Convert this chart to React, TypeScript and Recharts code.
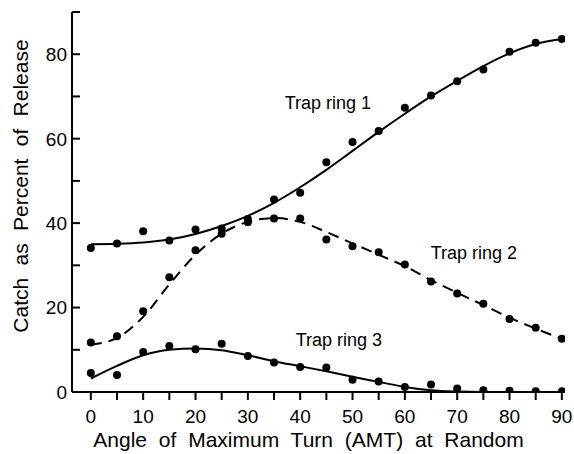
import React from "react";
import { ComposedChart, Line, Scatter, XAxis, YAxis, ReferenceDot } from "recharts";

// angle of maximum turn (deg), sampled every 5
const angles = [0, 5, 10, 15, 20, 25, 30, 35, 40, 45, 50, 55, 60, 65, 70, 75, 80, 85, 90];

// observed catch (% of release)
const ring1Catch = [34.1, 35.2, 38.1, 35.9, 38.5, 38.7, 41.0, 45.6, 47.2, 54.4, 59.2, 61.8, 67.3, 70.2, 73.6, 76.4, 80.6, 82.7, 83.6];
const ring2Catch = [11.7, 13.2, 19.1, 27.2, 33.6, 37.5, 40.2, 41.1, 41.1, 36.1, 34.5, 33.1, 30.2, 26.2, 23.3, 20.9, 17.3, 15.2, 12.6];
const ring3Catch = [4.5, 4.0, 9.5, 10.9, 10.1, 11.4, 8.5, 7.0, 5.9, 5.8, 2.9, 2.5, 1.2, 1.8, 0.8, 0.4, 0.3, 0.2, 0.2];

// fitted curves
const ring1Fit = [35.0, 35.1, 35.4, 36.1, 37.4, 39.3, 41.7, 44.8, 48.5, 52.6, 57.1, 61.6, 65.9, 70.0, 73.7, 77.2, 80.2, 82.4, 83.6];
const ring2Fit = [11.2, 12.8, 17.8, 25.5, 32.5, 37.5, 40.3, 41.2, 40.3, 37.9, 35.2, 32.5, 29.8, 26.5, 23.5, 20.6, 17.6, 15.0, 12.6];
const ring3Fit = [3.2, 6.2, 8.7, 10.0, 10.3, 9.9, 8.7, 7.3, 6.1, 4.9, 3.6, 2.4, 1.2, 0.4, 0.1, 0, 0, 0, 0];

const xTicks = angles;
const yTicks = [0, 10, 20, 30, 40, 50, 60, 70, 80, 90];

const ringLabels = [
  { name: "Trap ring 1", x: 45.3, y: 68.6 },
  { name: "Trap ring 2", x: 73.2, y: 33.1 },
  { name: "Trap ring 3", x: 47.4, y: 12.3 },
];

const data = angles.map((angle, i) => ({
  angle,
  ring1: ring1Catch[i],
  ring2: ring2Catch[i],
  ring3: ring3Catch[i],
  fit1: ring1Fit[i],
  fit2: ring2Fit[i],
  fit3: ring3Fit[i],
}));

const FONT = "'Liberation Sans', Arial, Helvetica, sans-serif";

function YTick(props: any) {
  const { x, y, payload } = props;
  const axisX = x + 5;
  return (
    <g>
      <line x1={axisX} x2={axisX + 8} y1={y} y2={y} stroke="#000" strokeWidth={2} />
      {payload.value % 20 === 0 && (
        <text x={x} y={y} dy="0.36em" textAnchor="end" fontSize={19} fontFamily={FONT} fill="#000">
          {payload.value}
        </text>
      )}
    </g>
  );
}

function Dot(props: any) {
  return <circle cx={props.cx} cy={props.cy} r={4} fill="#000" />;
}

function XTitle(props: any) {
  const { x, y, width } = props.viewBox;
  return (
    <text x={x + width / 2 - 10} y={y + 55} textAnchor="middle" fontSize={21} fontFamily={FONT} fill="#000" style={{ wordSpacing: 6 }}>
      Angle of Maximum Turn (AMT) at Random
    </text>
  );
}

function YTitle(props: any) {
  const { y, height } = props.viewBox;
  const cx = 20;
  const cy = y + height / 2 - 16;
  return (
    <text x={cx} y={cy} dy="0.36em" transform={`rotate(-90 ${cx} ${cy})`} textAnchor="middle" fontSize={21} fontFamily={FONT} fill="#000" style={{ wordSpacing: 6.5 }}>
      Catch as Percent of Release
    </text>
  );
}

export default function App() {
  return (
    <div style={{ position: "absolute", left: 0, top: 0, background: "#fff" }}>
      <ComposedChart width={574} height={454} data={data} margin={{ top: 12, right: 9, bottom: 32, left: 0 }}>
        <XAxis
          type="number"
          dataKey="angle"
          domain={[-3.6, 90.6]}
          allowDataOverflow
          ticks={xTicks}
          tickFormatter={(v: number) => (v % 10 === 0 ? String(v) : "")}
          height={30}
          tickSize={8}
          tickMargin={10}
          stroke="#000"
          strokeWidth={2}
          tick={{ fontSize: 19, fontFamily: FONT, fill: "#000" }}
          label={<XTitle />}
        />
        <YAxis
          type="number"
          domain={[0, 90]}
          allowDataOverflow
          ticks={yTicks}
          width={72}
          tickSize={0}
          tickMargin={5}
          tickLine={false}
          stroke="#000"
          strokeWidth={2}
          tick={<YTick />}
          label={<YTitle />}
        />
        <Line type="monotone" dataKey="fit1" stroke="#000" strokeWidth={2} dot={false} isAnimationActive={false} />
        <Line type="monotone" dataKey="fit2" stroke="#000" strokeWidth={2} strokeDasharray="11 7" dot={false} isAnimationActive={false} />
        <Line type="monotone" dataKey="fit3" stroke="#000" strokeWidth={2} dot={false} isAnimationActive={false} />
        <Scatter dataKey="ring1" fill="#000" shape={<Dot />} isAnimationActive={false} />
        <Scatter dataKey="ring2" fill="#000" shape={<Dot />} isAnimationActive={false} />
        <Scatter dataKey="ring3" fill="#000" shape={<Dot />} isAnimationActive={false} />
        {ringLabels.map((l) => (
          <ReferenceDot
            key={l.name}
            x={l.x}
            y={l.y}
            r={1}
            fill="none"
            stroke="none"
            label={{ value: l.name, position: "center", fontSize: 18, fontFamily: FONT, fill: "#000" }}
          />
        ))}
      </ComposedChart>
    </div>
  );
}
